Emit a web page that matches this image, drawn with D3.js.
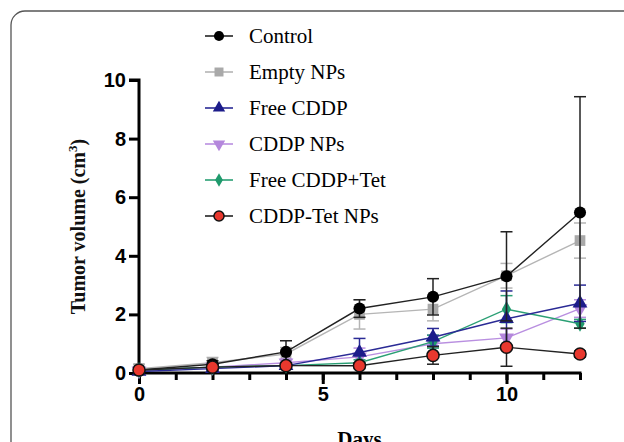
<!DOCTYPE html>
<html>
<head>
<meta charset="utf-8">
<script src="https://cdn.jsdelivr.net/npm/d3@7"></script>
<style>
  body { margin: 0; background: #fff; }
  svg { display: block; }
</style>
</head>
<body>
<div id="plot"></div>
<script>
const width = 624;
const height = 442;

// ----- DATA ------------------------//
const days = [0, 2, 4, 6, 8, 10, 12];
const seriesNames = ["Control", "Empty NPs", "Free CDDP", "CDDP NPs", "Free CDDP+Tet", "CDDP-Tet NPs"];
const control      = [0.10, 0.30, 0.72, 2.20, 2.60, 3.30, 5.48];
const emptyNPs     = [0.15, 0.35, 0.65, 2.00, 2.18, 3.32, 4.52];
const freeCDDP     = [0.05, 0.15, 0.25, 0.70, 1.22, 1.85, 2.38];
const cddpNPs      = [0.08, 0.20, 0.35, 0.55, 1.00, 1.20, 2.20];
const freeCDDPTet  = [0.10, 0.20, 0.25, 0.35, 1.07, 2.18, 1.68];
const cddpTetNPs   = [0.10, 0.20, 0.25, 0.25, 0.60, 0.88, 0.65];
// error (SD)
const controlErr     = [0.08, 0.12, 0.38, 0.30, 0.62, 1.52, 3.95];
const emptyNPsErr    = [0.15, 0.18, 0.22, 0.50, 0.40, 0.42, 0.60];
const freeCDDPErr    = [0.05, 0.05, 0.10, 0.48, 0.30, 0.95, 0.62];
const cddpNPsErr     = [0.05, 0.08, 0.12, 0.30, 0.30, 0.30, 0.30];
const freeCDDPTetErr = [0.05, 0.05, 0.05, 0.10, 0.22, 0.46, 0.15];
const cddpTetNPsErr  = [0.05, 0.05, 0.05, 0.10, 0.30, 0.65, 0.10];
const yTicks = [0, 2, 4, 6, 8, 10];
const xMajor = [0, 5, 10];
const xMinor = d3.range(0, 13);

const colors = ["#000000", "#a9a9a9", "#1c1c8a", "#b487dc", "#1f9a6c", "#e8382e"];
const lineColors = ["#222222", "#b5b5b5", "#2a2a95", "#b98fe0", "#2a9f74", "#222222"];
const symbols = [d3.symbolCircle, d3.symbolSquare, d3.symbolTriangle, "down", d3.symbolDiamond, d3.symbolCircle];

const series = seriesNames.map((name, i) => ({
    name: name,
    color: colors[i],
    lineColor: lineColors[i],
    symbol: symbols[i],
    values: [control, emptyNPs, freeCDDP, cddpNPs, freeCDDPTet, cddpTetNPs][i],
    err: [controlErr, emptyNPsErr, freeCDDPErr, cddpNPsErr, freeCDDPTetErr, cddpTetNPsErr][i]
}));

const svg = d3.select("#plot").append("svg")
    .attr("width", width)
    .attr("height", height);

// panel frame
svg.append("rect")
    .attr("x", 11).attr("y", 11)
    .attr("width", 640).attr("height", 460)
    .attr("rx", 14)
    .attr("fill", "none")
    .attr("stroke", "#555")
    .attr("stroke-width", 1.3);

// ----- SCALES ------------------------//
const xScl = d3.scaleLinear().domain([0, 12]).range([139, 580]);
const yScl = d3.scaleLinear().domain([0, 10]).range([373, 80]);

// axes
const yAxis = d3.axisLeft(yScl).tickValues(yTicks).tickSize(10).tickPadding(3);
const gy = svg.append("g").attr("transform", "translate(" + xScl(0) + ",0)").call(yAxis);
gy.select(".domain").attr("d", "M-10," + yScl(10) + "H0V" + (yScl(0) + 2));

const xMinorAxis = d3.axisBottom(xScl).tickValues(xMinor).tickSize(7).tickFormat("");
const gxm = svg.append("g").attr("transform", "translate(0," + yScl(0) + ")").call(xMinorAxis);
gxm.select(".domain").remove();

const xAxis = d3.axisBottom(xScl).tickValues(xMajor).tickSize(11).tickPadding(3);
const gx = svg.append("g").attr("transform", "translate(0," + yScl(0) + ")").call(xAxis);
gx.select(".domain").attr("d", "M" + (xScl(0) - 1.5) + ",0H" + (xScl(12) + 1.5));

svg.selectAll(".domain, .tick line")
    .attr("stroke", "#000")
    .attr("stroke-width", 3);
svg.selectAll(".tick text")
    .attr("font-family", "Liberation Sans, Arial, sans-serif")
    .attr("font-weight", "bold")
    .attr("font-size", 20)
    .attr("fill", "#000");

// axis titles
const ylab = svg.append("text")
    .attr("transform", "translate(85," + yScl(5) + ") rotate(-90)")
    .attr("text-anchor", "middle")
    .attr("font-family", "Liberation Serif, Times New Roman, serif")
    .attr("font-weight", "bold")
    .attr("font-size", 20)
    .attr("fill", "#111");
ylab.append("tspan").text("Tumor volume (cm");
ylab.append("tspan").attr("dy", -8).attr("font-size", 13).text("3");
ylab.append("tspan").attr("dy", 8).text(")");

svg.append("text")
    .attr("x", xScl(6))
    .attr("y", 446)
    .attr("text-anchor", "middle")
    .attr("font-family", "Liberation Serif, Times New Roman, serif")
    .attr("font-weight", "bold")
    .attr("font-size", 21)
    .text("Days");

// ----- MARKS ------------------------//
function symbolPath(s, size) {
    const t = s === "down" ? d3.symbolTriangle : s;
    return d3.symbol().type(t).size(size)();
}
function symbolTransform(s) {
    return s === "down" ? " rotate(180)" : "";
}
const symSize = d => d.symbol === d3.symbolSquare ? 115 : (d.symbol === d3.symbolDiamond ? 75 : (d.symbol === d3.symbolCircle ? 115 : 95));

const line = d3.line()
    .x((v, i) => xScl(days[i]))
    .y(v => yScl(v));

const drawOrder = [1, 3, 4, 2, 0, 5];
drawOrder.forEach(k => {
    const s = series[k];
    const g = svg.append("g");

    // error bars
    const eb = g.selectAll(".err")
        .data(days.map((d, i) => ({ x: d, y: s.values[i], e: s.err[i] })))
        .enter().append("g");
    eb.append("line")
        .attr("x1", d => xScl(d.x)).attr("x2", d => xScl(d.x))
        .attr("y1", d => yScl(d.y - d.e)).attr("y2", d => yScl(d.y + d.e))
        .attr("stroke", s.lineColor).attr("stroke-width", 1.5);
    [1, -1].forEach(sign => {
        eb.append("line")
            .attr("x1", d => xScl(d.x) - 6).attr("x2", d => xScl(d.x) + 6)
            .attr("y1", d => yScl(d.y + sign * d.e)).attr("y2", d => yScl(d.y + sign * d.e))
            .attr("stroke", s.lineColor).attr("stroke-width", 1.5);
    });

    g.append("path")
        .attr("d", line(s.values))
        .attr("fill", "none")
        .attr("stroke", s.lineColor)
        .attr("stroke-width", 1.4);

    g.selectAll(".pt")
        .data(s.values)
        .enter().append("path")
        .attr("d", symbolPath(s.symbol, symSize(s)))
        .attr("transform", (v, i) => "translate(" + xScl(days[i]) + "," + yScl(v) + ")" + symbolTransform(s.symbol))
        .attr("fill", s.color)
        .attr("stroke", k === 5 ? "#111" : "none")
        .attr("stroke-width", 1.5);
});

// ----- LEGEND ------------------------//
const legend = svg.append("g").attr("transform", "translate(205,36)");
const rows = legend.selectAll(".row")
    .data(series)
    .enter().append("g")
    .attr("transform", (d, i) => "translate(0," + (i * 36) + ")");
rows.append("line")
    .attr("x1", 0).attr("x2", 28)
    .attr("stroke", d => d.lineColor)
    .attr("stroke-width", 1.6);
rows.append("path")
    .attr("d", d => symbolPath(d.symbol, symSize(d) * 0.7))
    .attr("transform", d => "translate(14,0)" + symbolTransform(d.symbol))
    .attr("fill", d => d.color)
    .attr("stroke", (d, i) => i === 5 ? "#111" : "none")
    .attr("stroke-width", 1.5);
rows.append("text")
    .attr("x", 44)
    .attr("y", 7)
    .attr("font-family", "Liberation Serif, Times New Roman, serif")
    .attr("font-size", 21)
    .attr("fill", "#000")
    .text(d => d.name);
</script>
</body>
</html>
